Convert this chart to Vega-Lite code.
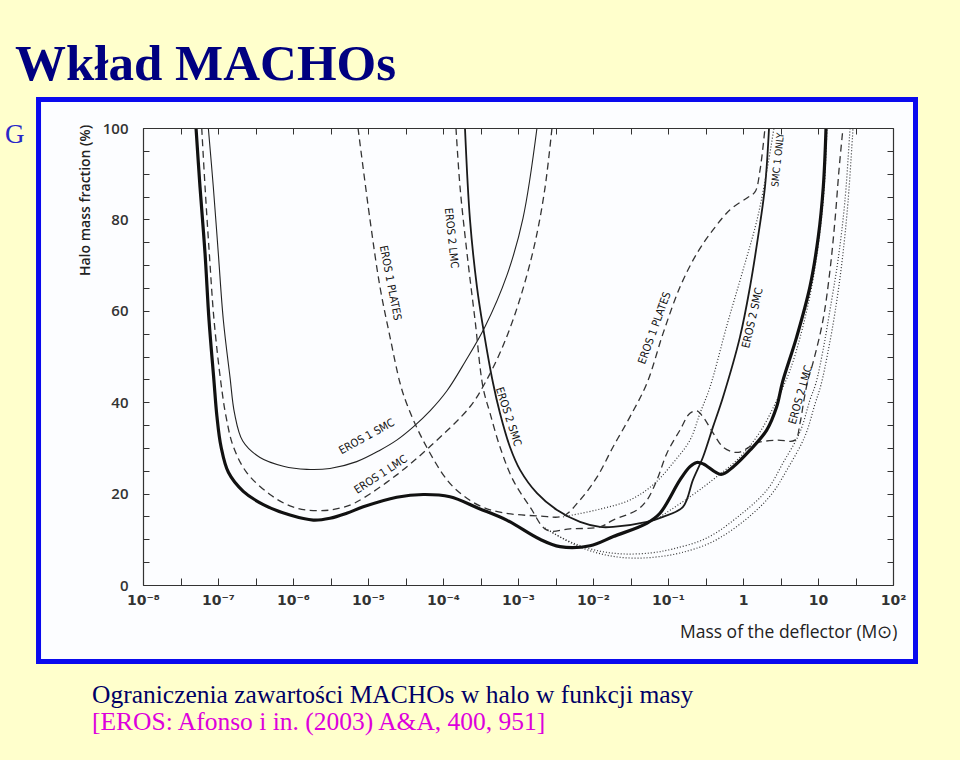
{
  "$schema": "https://vega.github.io/schema/vega-lite/v6.json",
  "width": 750,
  "height": 457,
  "autosize": {"type": "none"},
  "padding": {"left": 143, "top": 128, "right": 67, "bottom": 175},
  "background": "#FFFFCC",
  "config": {
    "view": {"stroke": null},
    "axis": {"grid": false, "domainColor": "#333333", "domainWidth": 1.2, "tickColor": "#333333", "tickWidth": 1, "labelFont": "Open Sans", "labelFontWeight": 600, "labelFontSize": 15, "labelColor": "#333333", "titleFont": "Open Sans", "zindex": 1}
  },
  "datasets": {
    "curves": [
      {"series": "EROS combined", "log_mass": -7.293, "fraction": 100},
      {"series": "EROS combined", "log_mass": -7.24, "fraction": 87.1},
      {"series": "EROS combined", "log_mass": -7.173, "fraction": 72.6},
      {"series": "EROS combined", "log_mass": -7.12, "fraction": 58.0},
      {"series": "EROS combined", "log_mass": -7.055, "fraction": 44.9},
      {"series": "EROS combined", "log_mass": -7.015, "fraction": 37.0},
      {"series": "EROS combined", "log_mass": -6.96, "fraction": 30.3},
      {"series": "EROS combined", "log_mass": -6.86, "fraction": 24.6},
      {"series": "EROS combined", "log_mass": -6.663, "fraction": 20.5},
      {"series": "EROS combined", "log_mass": -6.396, "fraction": 17.6},
      {"series": "EROS combined", "log_mass": -6.04, "fraction": 15.3},
      {"series": "EROS combined", "log_mass": -5.729, "fraction": 14.2},
      {"series": "EROS combined", "log_mass": -5.507, "fraction": 14.6},
      {"series": "EROS combined", "log_mass": -5.284, "fraction": 15.7},
      {"series": "EROS combined", "log_mass": -5.063, "fraction": 17.1},
      {"series": "EROS combined", "log_mass": -4.617, "fraction": 19.2},
      {"series": "EROS combined", "log_mass": -4.263, "fraction": 19.8},
      {"series": "EROS combined", "log_mass": -3.907, "fraction": 19.3},
      {"series": "EROS combined", "log_mass": -3.529, "fraction": 16.8},
      {"series": "EROS combined", "log_mass": -3.151, "fraction": 14.2},
      {"series": "EROS combined", "log_mass": -2.707, "fraction": 10.0},
      {"series": "EROS combined", "log_mass": -2.44, "fraction": 8.4},
      {"series": "EROS combined", "log_mass": -2.04, "fraction": 8.6},
      {"series": "EROS combined", "log_mass": -1.729, "fraction": 10.6},
      {"series": "EROS combined", "log_mass": -1.284, "fraction": 13.5},
      {"series": "EROS combined", "log_mass": -1.107, "fraction": 15.7},
      {"series": "EROS combined", "log_mass": -0.84, "fraction": 23.0},
      {"series": "EROS combined", "log_mass": -0.707, "fraction": 25.9},
      {"series": "EROS combined", "log_mass": -0.617, "fraction": 26.8},
      {"series": "EROS combined", "log_mass": -0.529, "fraction": 26.5},
      {"series": "EROS combined", "log_mass": -0.293, "fraction": 24.2},
      {"series": "EROS combined", "log_mass": -0.129, "fraction": 25.9},
      {"series": "EROS combined", "log_mass": 0.093, "fraction": 29.5},
      {"series": "EROS combined", "log_mass": 0.316, "fraction": 33.9},
      {"series": "EROS combined", "log_mass": 0.449, "fraction": 39.0},
      {"series": "EROS combined", "log_mass": 0.527, "fraction": 44.4},
      {"series": "EROS combined", "log_mass": 0.716, "fraction": 54.3},
      {"series": "EROS combined", "log_mass": 0.893, "fraction": 65.3},
      {"series": "EROS combined", "log_mass": 1.004, "fraction": 76.2},
      {"series": "EROS combined", "log_mass": 1.071, "fraction": 87.2},
      {"series": "EROS combined", "log_mass": 1.107, "fraction": 100},

      {"series": "EROS 1 SMC", "log_mass": -7.129, "fraction": 100},
      {"series": "EROS 1 SMC", "log_mass": -7.063, "fraction": 87.2},
      {"series": "EROS 1 SMC", "log_mass": -6.996, "fraction": 72.6},
      {"series": "EROS 1 SMC", "log_mass": -6.929, "fraction": 58.0},
      {"series": "EROS 1 SMC", "log_mass": -6.84, "fraction": 45.5},
      {"series": "EROS 1 SMC", "log_mass": -6.78, "fraction": 37.6},
      {"series": "EROS 1 SMC", "log_mass": -6.67, "fraction": 31.5},
      {"series": "EROS 1 SMC", "log_mass": -6.44, "fraction": 27.9},
      {"series": "EROS 1 SMC", "log_mass": -6.129, "fraction": 26.0},
      {"series": "EROS 1 SMC", "log_mass": -5.817, "fraction": 25.3},
      {"series": "EROS 1 SMC", "log_mass": -5.507, "fraction": 25.5},
      {"series": "EROS 1 SMC", "log_mass": -5.151, "fraction": 27.0},
      {"series": "EROS 1 SMC", "log_mass": -4.84, "fraction": 29.5},
      {"series": "EROS 1 SMC", "log_mass": -4.617, "fraction": 31.7},
      {"series": "EROS 1 SMC", "log_mass": -4.396, "fraction": 34.6},
      {"series": "EROS 1 SMC", "log_mass": -4.173, "fraction": 38.1},
      {"series": "EROS 1 SMC", "log_mass": -3.947, "fraction": 42.5},
      {"series": "EROS 1 SMC", "log_mass": -3.707, "fraction": 48.8},
      {"series": "EROS 1 SMC", "log_mass": -3.44, "fraction": 56.5},
      {"series": "EROS 1 SMC", "log_mass": -3.147, "fraction": 67.8},
      {"series": "EROS 1 SMC", "log_mass": -2.933, "fraction": 80.3},
      {"series": "EROS 1 SMC", "log_mass": -2.747, "fraction": 100},

      {"series": "EROS 1 LMC", "log_mass": -7.217, "fraction": 100},
      {"series": "EROS 1 LMC", "log_mass": -7.173, "fraction": 87.2},
      {"series": "EROS 1 LMC", "log_mass": -7.116, "fraction": 72.6},
      {"series": "EROS 1 LMC", "log_mass": -7.053, "fraction": 58.0},
      {"series": "EROS 1 LMC", "log_mass": -6.96, "fraction": 44.1},
      {"series": "EROS 1 LMC", "log_mass": -6.89, "fraction": 36.6},
      {"series": "EROS 1 LMC", "log_mass": -6.796, "fraction": 30.3},
      {"series": "EROS 1 LMC", "log_mass": -6.617, "fraction": 24.6},
      {"series": "EROS 1 LMC", "log_mass": -6.307, "fraction": 19.8},
      {"series": "EROS 1 LMC", "log_mass": -6.04, "fraction": 17.3},
      {"series": "EROS 1 LMC", "log_mass": -5.817, "fraction": 16.4},
      {"series": "EROS 1 LMC", "log_mass": -5.507, "fraction": 16.4},
      {"series": "EROS 1 LMC", "log_mass": -5.24, "fraction": 17.5},
      {"series": "EROS 1 LMC", "log_mass": -5.063, "fraction": 19.0},
      {"series": "EROS 1 LMC", "log_mass": -4.617, "fraction": 24.1},
      {"series": "EROS 1 LMC", "log_mass": -4.173, "fraction": 30.3},
      {"series": "EROS 1 LMC", "log_mass": -3.64, "fraction": 39.0},
      {"series": "EROS 1 LMC", "log_mass": -3.44, "fraction": 44.2},
      {"series": "EROS 1 LMC", "log_mass": -3.24, "fraction": 50.8},
      {"series": "EROS 1 LMC", "log_mass": -3.067, "fraction": 58.0},
      {"series": "EROS 1 LMC", "log_mass": -2.907, "fraction": 66.3},
      {"series": "EROS 1 LMC", "log_mass": -2.76, "fraction": 75.9},
      {"series": "EROS 1 LMC", "log_mass": -2.64, "fraction": 86.9},
      {"series": "EROS 1 LMC", "log_mass": -2.547, "fraction": 100},

      {"series": "EROS 1 PLATES", "log_mass": -5.133, "fraction": 100},
      {"series": "EROS 1 PLATES", "log_mass": -4.973, "fraction": 79.9},
      {"series": "EROS 1 PLATES", "log_mass": -4.84, "fraction": 65.2},
      {"series": "EROS 1 PLATES", "log_mass": -4.707, "fraction": 54.3},
      {"series": "EROS 1 PLATES", "log_mass": -4.573, "fraction": 44.2},
      {"series": "EROS 1 PLATES", "log_mass": -4.48, "fraction": 39.5},
      {"series": "EROS 1 PLATES", "log_mass": -4.267, "fraction": 31.7},
      {"series": "EROS 1 PLATES", "log_mass": -3.947, "fraction": 23.0},
      {"series": "EROS 1 PLATES", "log_mass": -3.747, "fraction": 19.8},
      {"series": "EROS 1 PLATES", "log_mass": -3.507, "fraction": 17.3},
      {"series": "EROS 1 PLATES", "log_mass": -3.2, "fraction": 15.8},
      {"series": "EROS 1 PLATES", "log_mass": -2.707, "fraction": 15.1},
      {"series": "EROS 1 PLATES", "log_mass": -2.4, "fraction": 15.1},
      {"series": "EROS 1 PLATES", "log_mass": -2.173, "fraction": 18.6},
      {"series": "EROS 1 PLATES", "log_mass": -1.947, "fraction": 23.6},
      {"series": "EROS 1 PLATES", "log_mass": -1.733, "fraction": 30.2},
      {"series": "EROS 1 PLATES", "log_mass": -1.507, "fraction": 36.8},
      {"series": "EROS 1 PLATES", "log_mass": -1.28, "fraction": 44.2},
      {"series": "EROS 1 PLATES", "log_mass": -1.067, "fraction": 55.0},
      {"series": "EROS 1 PLATES", "log_mass": -0.84, "fraction": 65.2},
      {"series": "EROS 1 PLATES", "log_mass": -0.613, "fraction": 72.6},
      {"series": "EROS 1 PLATES", "log_mass": -0.4, "fraction": 77.7},
      {"series": "EROS 1 PLATES", "log_mass": -0.173, "fraction": 82.1},
      {"series": "EROS 1 PLATES", "log_mass": 0.053, "fraction": 84.7},
      {"series": "EROS 1 PLATES", "log_mass": 0.16, "fraction": 86.0},
      {"series": "EROS 1 PLATES", "log_mass": 0.227, "fraction": 90.8},
      {"series": "EROS 1 PLATES", "log_mass": 0.293, "fraction": 100},

      {"series": "EROS 2 LMC", "log_mass": -3.827, "fraction": 100},
      {"series": "EROS 2 LMC", "log_mass": -3.773, "fraction": 87.1},
      {"series": "EROS 2 LMC", "log_mass": -3.68, "fraction": 72.6},
      {"series": "EROS 2 LMC", "log_mass": -3.573, "fraction": 58.0},
      {"series": "EROS 2 LMC", "log_mass": -3.467, "fraction": 43.3},
      {"series": "EROS 2 LMC", "log_mass": -3.373, "fraction": 37.6},
      {"series": "EROS 2 LMC", "log_mass": -3.24, "fraction": 30.2},
      {"series": "EROS 2 LMC", "log_mass": -3.067, "fraction": 23.0},
      {"series": "EROS 2 LMC", "log_mass": -2.84, "fraction": 17.1},
      {"series": "EROS 2 LMC", "log_mass": -2.613, "fraction": 12.0},
      {"series": "EROS 2 LMC", "log_mass": -2.307, "fraction": 12.3},
      {"series": "EROS 2 LMC", "log_mass": -1.907, "fraction": 12.7},
      {"series": "EROS 2 LMC", "log_mass": -1.733, "fraction": 14.2},
      {"series": "EROS 2 LMC", "log_mass": -1.413, "fraction": 16.4},
      {"series": "EROS 2 LMC", "log_mass": -1.28, "fraction": 18.6},
      {"series": "EROS 2 LMC", "log_mass": -1.147, "fraction": 23.0},
      {"series": "EROS 2 LMC", "log_mass": -1.013, "fraction": 28.9},
      {"series": "EROS 2 LMC", "log_mass": -0.84, "fraction": 33.9},
      {"series": "EROS 2 LMC", "log_mass": -0.707, "fraction": 37.6},
      {"series": "EROS 2 LMC", "log_mass": -0.613, "fraction": 38.1},
      {"series": "EROS 2 LMC", "log_mass": -0.533, "fraction": 36.8},
      {"series": "EROS 2 LMC", "log_mass": -0.4, "fraction": 33.3},
      {"series": "EROS 2 LMC", "log_mass": -0.267, "fraction": 30.2},
      {"series": "EROS 2 LMC", "log_mass": -0.133, "fraction": 29.1},
      {"series": "EROS 2 LMC", "log_mass": -0.04, "fraction": 29.1},
      {"series": "EROS 2 LMC", "log_mass": 0.187, "fraction": 31.1},
      {"series": "EROS 2 LMC", "log_mass": 0.453, "fraction": 31.7},
      {"series": "EROS 2 LMC", "log_mass": 0.693, "fraction": 31.7},
      {"series": "EROS 2 LMC", "log_mass": 0.76, "fraction": 35.4},
      {"series": "EROS 2 LMC", "log_mass": 0.813, "fraction": 40.5},
      {"series": "EROS 2 LMC", "log_mass": 0.867, "fraction": 44.9},
      {"series": "EROS 2 LMC", "log_mass": 0.933, "fraction": 48.6},
      {"series": "EROS 2 LMC", "log_mass": 1.067, "fraction": 58.0},
      {"series": "EROS 2 LMC", "log_mass": 1.16, "fraction": 68.9},
      {"series": "EROS 2 LMC", "log_mass": 1.227, "fraction": 79.9},
      {"series": "EROS 2 LMC", "log_mass": 1.28, "fraction": 90.8},
      {"series": "EROS 2 LMC", "log_mass": 1.333, "fraction": 100},

      {"series": "EROS 2 SMC", "log_mass": -3.707, "fraction": 100},
      {"series": "EROS 2 SMC", "log_mass": -3.64, "fraction": 79.9},
      {"series": "EROS 2 SMC", "log_mass": -3.547, "fraction": 65.2},
      {"series": "EROS 2 SMC", "log_mass": -3.467, "fraction": 56.5},
      {"series": "EROS 2 SMC", "log_mass": -3.333, "fraction": 44.2},
      {"series": "EROS 2 SMC", "log_mass": -3.24, "fraction": 37.6},
      {"series": "EROS 2 SMC", "log_mass": -3.107, "fraction": 30.2},
      {"series": "EROS 2 SMC", "log_mass": -2.973, "fraction": 25.2},
      {"series": "EROS 2 SMC", "log_mass": -2.747, "fraction": 20.1},
      {"series": "EROS 2 SMC", "log_mass": -2.48, "fraction": 16.4},
      {"series": "EROS 2 SMC", "log_mass": -2.173, "fraction": 13.8},
      {"series": "EROS 2 SMC", "log_mass": -1.907, "fraction": 12.7},
      {"series": "EROS 2 SMC", "log_mass": -1.733, "fraction": 12.7},
      {"series": "EROS 2 SMC", "log_mass": -1.28, "fraction": 13.8},
      {"series": "EROS 2 SMC", "log_mass": -1.067, "fraction": 14.9},
      {"series": "EROS 2 SMC", "log_mass": -0.8, "fraction": 17.1},
      {"series": "EROS 2 SMC", "log_mass": -0.667, "fraction": 23.0},
      {"series": "EROS 2 SMC", "log_mass": -0.533, "fraction": 28.0},
      {"series": "EROS 2 SMC", "log_mass": -0.4, "fraction": 34.6},
      {"series": "EROS 2 SMC", "log_mass": -0.267, "fraction": 41.1},
      {"series": "EROS 2 SMC", "log_mass": -0.04, "fraction": 54.3},
      {"series": "EROS 2 SMC", "log_mass": 0.093, "fraction": 65.2},
      {"series": "EROS 2 SMC", "log_mass": 0.2, "fraction": 76.1},
      {"series": "EROS 2 SMC", "log_mass": 0.293, "fraction": 87.1},
      {"series": "EROS 2 SMC", "log_mass": 0.347, "fraction": 100},

      {"series": "SMC 1 ONLY", "log_mass": -2.4, "fraction": 14.9},
      {"series": "SMC 1 ONLY", "log_mass": -1.907, "fraction": 16.6},
      {"series": "SMC 1 ONLY", "log_mass": -1.507, "fraction": 18.6},
      {"series": "SMC 1 ONLY", "log_mass": -1.2, "fraction": 21.9},
      {"series": "SMC 1 ONLY", "log_mass": -0.933, "fraction": 26.7},
      {"series": "SMC 1 ONLY", "log_mass": -0.707, "fraction": 31.7},
      {"series": "SMC 1 ONLY", "log_mass": -0.573, "fraction": 37.6},
      {"series": "SMC 1 ONLY", "log_mass": -0.44, "fraction": 43.3},
      {"series": "SMC 1 ONLY", "log_mass": -0.213, "fraction": 56.9},
      {"series": "SMC 1 ONLY", "log_mass": 0.0, "fraction": 68.9},
      {"series": "SMC 1 ONLY", "log_mass": 0.187, "fraction": 79.9},
      {"series": "SMC 1 ONLY", "log_mass": 0.32, "fraction": 90.8},
      {"series": "SMC 1 ONLY", "log_mass": 0.413, "fraction": 100},

      {"series": "dotted A", "log_mass": -2.64, "fraction": 12.5},
      {"series": "dotted A", "log_mass": -2.533, "fraction": 11.4},
      {"series": "dotted A", "log_mass": -2.267, "fraction": 9.2},
      {"series": "dotted A", "log_mass": -1.907, "fraction": 7.4},
      {"series": "dotted A", "log_mass": -1.6, "fraction": 6.8},
      {"series": "dotted A", "log_mass": -1.24, "fraction": 7.0},
      {"series": "dotted A", "log_mass": -0.933, "fraction": 7.9},
      {"series": "dotted A", "log_mass": -0.48, "fraction": 10.3},
      {"series": "dotted A", "log_mass": -0.04, "fraction": 15.3},
      {"series": "dotted A", "log_mass": 0.32, "fraction": 20.8},
      {"series": "dotted A", "log_mass": 0.533, "fraction": 26.7},
      {"series": "dotted A", "log_mass": 0.76, "fraction": 33.5},
      {"series": "dotted A", "log_mass": 0.893, "fraction": 40.5},
      {"series": "dotted A", "log_mass": 0.973, "fraction": 44.2},
      {"series": "dotted A", "log_mass": 1.067, "fraction": 51.4},
      {"series": "dotted A", "log_mass": 1.16, "fraction": 60.2},
      {"series": "dotted A", "log_mass": 1.267, "fraction": 71.1},
      {"series": "dotted A", "log_mass": 1.36, "fraction": 84.2},
      {"series": "dotted A", "log_mass": 1.427, "fraction": 100},

      {"series": "dotted B", "log_mass": -2.573, "fraction": 11.8},
      {"series": "dotted B", "log_mass": -2.44, "fraction": 10.5},
      {"series": "dotted B", "log_mass": -2.173, "fraction": 8.3},
      {"series": "dotted B", "log_mass": -1.84, "fraction": 6.6},
      {"series": "dotted B", "log_mass": -1.507, "fraction": 5.9},
      {"series": "dotted B", "log_mass": -1.173, "fraction": 6.1},
      {"series": "dotted B", "log_mass": -0.84, "fraction": 7.0},
      {"series": "dotted B", "log_mass": -0.413, "fraction": 9.4},
      {"series": "dotted B", "log_mass": 0.027, "fraction": 14.2},
      {"series": "dotted B", "log_mass": 0.373, "fraction": 19.7},
      {"series": "dotted B", "log_mass": 0.6, "fraction": 25.6},
      {"series": "dotted B", "log_mass": 0.827, "fraction": 32.6},
      {"series": "dotted B", "log_mass": 0.96, "fraction": 39.6},
      {"series": "dotted B", "log_mass": 1.04, "fraction": 43.8},
      {"series": "dotted B", "log_mass": 1.133, "fraction": 51.0},
      {"series": "dotted B", "log_mass": 1.227, "fraction": 59.7},
      {"series": "dotted B", "log_mass": 1.32, "fraction": 70.7},
      {"series": "dotted B", "log_mass": 1.4, "fraction": 83.8},
      {"series": "dotted B", "log_mass": 1.467, "fraction": 100},

      {"series": "dotted C", "log_mass": -1.107, "fraction": 14.9},
      {"series": "dotted C", "log_mass": -0.707, "fraction": 19.3},
      {"series": "dotted C", "log_mass": -0.373, "fraction": 23.4},
      {"series": "dotted C", "log_mass": -0.04, "fraction": 28.0},
      {"series": "dotted C", "log_mass": 0.227, "fraction": 33.5},
      {"series": "dotted C", "log_mass": 0.453, "fraction": 40.5},
      {"series": "dotted C", "log_mass": 0.627, "fraction": 47.0},
      {"series": "dotted C", "log_mass": 0.787, "fraction": 55.8},
      {"series": "dotted C", "log_mass": 0.92, "fraction": 65.6},
      {"series": "dotted C", "log_mass": 1.013, "fraction": 75.5},
      {"series": "dotted C", "log_mass": 1.08, "fraction": 86.4},
      {"series": "dotted C", "log_mass": 1.12, "fraction": 100}
    ],
    "labels": [
      {"label": "EROS 1 PLATES", "log_mass": -4.707, "fraction": 66.1},
      {"label": "EROS 2 LMC", "log_mass": -3.893, "fraction": 75.9},
      {"label": "EROS 1 SMC", "log_mass": -5.013, "fraction": 32.4},
      {"label": "EROS 1 LMC", "log_mass": -4.827, "fraction": 24.1},
      {"label": "EROS 2 SMC", "log_mass": -3.133, "fraction": 36.8},
      {"label": "EROS 1 PLATES", "log_mass": -1.173, "fraction": 56.2},
      {"label": "EROS 2 SMC", "log_mass": 0.133, "fraction": 58.4},
      {"label": "SMC 1 ONLY", "log_mass": 0.467, "fraction": 93.0},
      {"label": "EROS 2 LMC", "log_mass": 0.773, "fraction": 41.6}
    ]
  },
  "layer": [
    {
      "data": {"values": [{"part": "frame"}]},
      "mark": {"type": "rect", "fill": "#FCFDFF", "stroke": "#0A0AEE", "strokeWidth": 5, "invalid": null, "zindex": 0},
      "encoding": {
        "x": {"datum": -9.393, "type": "quantitative", "scale": {"domain": [-8, 2], "nice": false, "zero": false}, "axis": null},
        "x2": {"datum": 2.3},
        "y": {"datum": 106.24, "type": "quantitative", "scale": {"domain": [0, 100], "nice": false, "zero": false}, "axis": null},
        "y2": {"datum": -16.74}
      }
    },
    {
      "data": {"name": "labels"},
      "mark": {"type": "point", "opacity": 0},
      "encoding": {
        "x": {
          "field": "log_mass", "type": "quantitative",
          "scale": {"domain": [-8, 2], "nice": false, "zero": false},
          "axis": {
            "orient": "bottom", "zindex": 2,
            "values": [-8, -7.5, -7, -6.5, -6, -5.5, -5, -4.5, -4, -3.5, -3, -2.5, -2, -1.5, -1, -0.5, 0, 0.5, 1, 1.5, 2],
            "labelExpr": "datum.value == -8 ? '10⁻⁸' : datum.value == -7 ? '10⁻⁷' : datum.value == -6 ? '10⁻⁶' : datum.value == -5 ? '10⁻⁵' : datum.value == -4 ? '10⁻⁴' : datum.value == -3 ? '10⁻³' : datum.value == -2 ? '10⁻²' : datum.value == -1 ? '10⁻¹' : datum.value == 0 ? '1' : datum.value == 1 ? '10' : datum.value == 2 ? '10²' : ''",
            "labelFont": "DejaVu Sans", "labelFontSize": 14, "labelFontWeight": "bold",
            "tickSize": -7, "labelPadding": 15, "labelFlush": false, "labelOverlap": false,
            "title": "Mass of the deflector (M⊙)", "titleAnchor": "end", "titleAlign": "right",
            "titleX": 754, "titleY": 52, "titleBaseline": "alphabetic",
            "titleFontSize": 17.5, "titleFontWeight": "normal", "titleColor": "#222222"
          }
        },
        "y": {
          "field": "fraction", "type": "quantitative",
          "scale": {"domain": [0, 100], "nice": false, "zero": false},
          "axis": {
            "orient": "left", "zindex": 2,
            "values": [0, 5, 10, 15, 20, 25, 30, 35, 40, 45, 50, 55, 60, 65, 70, 75, 80, 85, 90, 95, 100],
            "labelExpr": "datum.value % 20 == 0 ? datum.label : ''",
            "tickSize": -6, "labelPadding": 21,
            "title": "Halo mass fraction (%)", "titleX": -58, "titleY": 72, "titleAngle": -90,
            "titleAlign": "center", "titleBaseline": "middle",
            "titleFontSize": 14, "titleFontWeight": 600, "titleColor": "#222222"
          }
        }
      }
    },
    {
      "data": {"name": "labels"},
      "mark": {"type": "point", "opacity": 0},
      "encoding": {
        "x": {
          "field": "log_mass", "type": "quantitative",
          "scale": {"domain": [-8, 2], "nice": false, "zero": false},
          "axis": {"orient": "top", "zindex": 2, "labels": false, "title": null, "tickSize": -6, "domain": true,
                   "values": [-8, -7.5, -7, -6.5, -6, -5.5, -5, -4.5, -4, -3.5, -3, -2.5, -2, -1.5, -1, -0.5, 0, 0.5, 1, 1.5, 2]}
        },
        "y": {
          "field": "fraction", "type": "quantitative",
          "scale": {"domain": [0, 100], "nice": false, "zero": false},
          "axis": {"orient": "right", "zindex": 2, "labels": false, "title": null, "tickSize": -6, "domain": true,
                   "values": [0, 5, 10, 15, 20, 25, 30, 35, 40, 45, 50, 55, 60, 65, 70, 75, 80, 85, 90, 95, 100]}
        }
      }
    },
    {
      "data": {"name": "curves"},
      "transform": [{"filter": "datum.series === 'EROS 1 SMC'"}],
      "mark": {"type": "line", "interpolate": "catmull-rom", "color": "#222222", "strokeWidth": 1.1, "zindex": 1},
      "encoding": {
        "x": {"field": "log_mass", "type": "quantitative", "scale": {"domain": [-8, 2], "nice": false, "zero": false}, "axis": null},
        "y": {"field": "fraction", "type": "quantitative", "scale": {"domain": [0, 100], "nice": false, "zero": false}, "axis": null},
        "detail": {"field": "series"}
      }
    },
    {
      "data": {"name": "curves"},
      "transform": [{"filter": "datum.series === 'EROS 2 SMC'"}],
      "mark": {"type": "line", "interpolate": "catmull-rom", "color": "#1a1a1a", "strokeWidth": 1.8, "zindex": 1},
      "encoding": {
        "x": {"field": "log_mass", "type": "quantitative", "scale": {"domain": [-8, 2], "nice": false, "zero": false}, "axis": null},
        "y": {"field": "fraction", "type": "quantitative", "scale": {"domain": [0, 100], "nice": false, "zero": false}, "axis": null},
        "detail": {"field": "series"}
      }
    },
    {
      "data": {"name": "curves"},
      "transform": [{"filter": "datum.series === 'EROS 1 LMC' || datum.series === 'EROS 1 PLATES' || datum.series === 'EROS 2 LMC'"}],
      "mark": {"type": "line", "interpolate": "catmull-rom", "color": "#333333", "strokeWidth": 1.3, "strokeDash": [7, 4.5], "zindex": 1},
      "encoding": {
        "x": {"field": "log_mass", "type": "quantitative", "scale": {"domain": [-8, 2], "nice": false, "zero": false}, "axis": null},
        "y": {"field": "fraction", "type": "quantitative", "scale": {"domain": [0, 100], "nice": false, "zero": false}, "axis": null},
        "detail": {"field": "series"}
      }
    },
    {
      "data": {"name": "curves"},
      "transform": [{"filter": "datum.series === 'SMC 1 ONLY' || datum.series === 'dotted A' || datum.series === 'dotted B' || datum.series === 'dotted C'"}],
      "mark": {"type": "line", "interpolate": "catmull-rom", "color": "#333333", "strokeWidth": 1.2, "strokeDash": [1, 2], "zindex": 1},
      "encoding": {
        "x": {"field": "log_mass", "type": "quantitative", "scale": {"domain": [-8, 2], "nice": false, "zero": false}, "axis": null},
        "y": {"field": "fraction", "type": "quantitative", "scale": {"domain": [0, 100], "nice": false, "zero": false}, "axis": null},
        "detail": {"field": "series"}
      }
    },
    {
      "data": {"name": "curves"},
      "transform": [{"filter": "datum.series === 'EROS combined'"}],
      "mark": {"type": "line", "interpolate": "catmull-rom", "color": "#111111", "strokeWidth": 3.2, "zindex": 1},
      "encoding": {
        "x": {"field": "log_mass", "type": "quantitative", "scale": {"domain": [-8, 2], "nice": false, "zero": false}, "axis": null},
        "y": {"field": "fraction", "type": "quantitative", "scale": {"domain": [0, 100], "nice": false, "zero": false}, "axis": null},
        "detail": {"field": "series"}
      }
    },
    {
      "data": {"name": "labels"},
      "transform": [{"filter": "datum.label === 'EROS 1 PLATES' && datum.log_mass < -3"}],
      "mark": {"type": "text", "angle": 79, "font": "Liberation Sans Narrow, DejaVu Sans Condensed, Open Sans, sans-serif", "fontSize": 11, "color": "#111111", "align": "center", "baseline": "middle", "zindex": 1},
      "encoding": {"x": {"field": "log_mass", "type": "quantitative", "axis": null}, "y": {"field": "fraction", "type": "quantitative", "axis": null}, "text": {"field": "label"}}
    },
    {
      "data": {"name": "labels"},
      "transform": [{"filter": "datum.label === 'EROS 2 LMC' && datum.log_mass < -3"}],
      "mark": {"type": "text", "angle": 84, "font": "Liberation Sans Narrow, DejaVu Sans Condensed, Open Sans, sans-serif", "fontSize": 11, "color": "#111111", "align": "center", "baseline": "middle", "zindex": 1},
      "encoding": {"x": {"field": "log_mass", "type": "quantitative", "axis": null}, "y": {"field": "fraction", "type": "quantitative", "axis": null}, "text": {"field": "label"}}
    },
    {
      "data": {"name": "labels"},
      "transform": [{"filter": "datum.label === 'EROS 1 SMC'"}],
      "mark": {"type": "text", "angle": -29, "font": "Liberation Sans Narrow, DejaVu Sans Condensed, Open Sans, sans-serif", "fontSize": 11, "color": "#111111", "align": "center", "baseline": "middle", "zindex": 1},
      "encoding": {"x": {"field": "log_mass", "type": "quantitative", "axis": null}, "y": {"field": "fraction", "type": "quantitative", "axis": null}, "text": {"field": "label"}}
    },
    {
      "data": {"name": "labels"},
      "transform": [{"filter": "datum.label === 'EROS 1 LMC'"}],
      "mark": {"type": "text", "angle": -33, "font": "Liberation Sans Narrow, DejaVu Sans Condensed, Open Sans, sans-serif", "fontSize": 11, "color": "#111111", "align": "center", "baseline": "middle", "zindex": 1},
      "encoding": {"x": {"field": "log_mass", "type": "quantitative", "axis": null}, "y": {"field": "fraction", "type": "quantitative", "axis": null}, "text": {"field": "label"}}
    },
    {
      "data": {"name": "labels"},
      "transform": [{"filter": "datum.label === 'EROS 2 SMC' && datum.log_mass < -2"}],
      "mark": {"type": "text", "angle": 72, "font": "Liberation Sans Narrow, DejaVu Sans Condensed, Open Sans, sans-serif", "fontSize": 11, "color": "#111111", "align": "center", "baseline": "middle", "zindex": 1},
      "encoding": {"x": {"field": "log_mass", "type": "quantitative", "axis": null}, "y": {"field": "fraction", "type": "quantitative", "axis": null}, "text": {"field": "label"}}
    },
    {
      "data": {"name": "labels"},
      "transform": [{"filter": "datum.label === 'EROS 1 PLATES' && datum.log_mass > -3"}],
      "mark": {"type": "text", "angle": -70, "font": "Liberation Sans Narrow, DejaVu Sans Condensed, Open Sans, sans-serif", "fontSize": 11, "color": "#111111", "align": "center", "baseline": "middle", "zindex": 1},
      "encoding": {"x": {"field": "log_mass", "type": "quantitative", "axis": null}, "y": {"field": "fraction", "type": "quantitative", "axis": null}, "text": {"field": "label"}}
    },
    {
      "data": {"name": "labels"},
      "transform": [{"filter": "datum.label === 'EROS 2 SMC' && datum.log_mass > -2"}],
      "mark": {"type": "text", "angle": -77, "font": "Liberation Sans Narrow, DejaVu Sans Condensed, Open Sans, sans-serif", "fontSize": 11, "color": "#111111", "align": "center", "baseline": "middle", "zindex": 1},
      "encoding": {"x": {"field": "log_mass", "type": "quantitative", "axis": null}, "y": {"field": "fraction", "type": "quantitative", "axis": null}, "text": {"field": "label"}}
    },
    {
      "data": {"name": "labels"},
      "transform": [{"filter": "datum.label === 'SMC 1 ONLY'"}],
      "mark": {"type": "text", "angle": -84, "font": "Liberation Sans Narrow, DejaVu Sans Condensed, Open Sans, sans-serif", "fontSize": 10, "color": "#111111", "align": "center", "baseline": "middle", "zindex": 1},
      "encoding": {"x": {"field": "log_mass", "type": "quantitative", "axis": null}, "y": {"field": "fraction", "type": "quantitative", "axis": null}, "text": {"field": "label"}}
    },
    {
      "data": {"name": "labels"},
      "transform": [{"filter": "datum.label === 'EROS 2 LMC' && datum.log_mass > -3"}],
      "mark": {"type": "text", "angle": -74, "font": "Liberation Sans Narrow, DejaVu Sans Condensed, Open Sans, sans-serif", "fontSize": 11, "color": "#111111", "align": "center", "baseline": "middle", "zindex": 1},
      "encoding": {"x": {"field": "log_mass", "type": "quantitative", "axis": null}, "y": {"field": "fraction", "type": "quantitative", "axis": null}, "text": {"field": "label"}}
    },
    {
      "data": {"values": [{"part": "title"}]},
      "mark": {"type": "text", "text": "Wkład MACHOs", "font": "Liberation Serif", "fontSize": 51, "fontWeight": "bold", "color": "#000080", "align": "left", "baseline": "alphabetic", "invalid": null, "zindex": 1},
      "encoding": {"x": {"datum": -9.707, "type": "quantitative", "axis": null}, "y": {"datum": 110.5, "type": "quantitative", "axis": null}}
    },
    {
      "data": {"values": [{"part": "G"}]},
      "mark": {"type": "text", "text": "G", "font": "Liberation Serif", "fontSize": 27, "color": "#2828C8", "align": "left", "baseline": "alphabetic", "invalid": null, "zindex": 1},
      "encoding": {"x": {"datum": -9.84, "type": "quantitative", "axis": null}, "y": {"datum": 96.7, "type": "quantitative", "axis": null}}
    },
    {
      "data": {"values": [{"part": "caption"}]},
      "mark": {"type": "text", "text": "Ograniczenia zawartości MACHOs w halo w funkcji masy", "font": "Liberation Serif", "fontSize": 25.5, "color": "#000066", "align": "left", "baseline": "alphabetic", "invalid": null, "zindex": 1},
      "encoding": {"x": {"datum": -8.68, "type": "quantitative", "axis": null}, "y": {"datum": -25.82, "type": "quantitative", "axis": null}}
    },
    {
      "data": {"values": [{"part": "source"}]},
      "mark": {"type": "text", "text": "[EROS: Afonso i in. (2003) A&A, 400, 951]", "font": "Liberation Serif", "fontSize": 25.5, "color": "#DD00DD", "align": "left", "baseline": "alphabetic", "invalid": null, "zindex": 1},
      "encoding": {"x": {"datum": -8.68, "type": "quantitative", "axis": null}, "y": {"datum": -31.73, "type": "quantitative", "axis": null}}
    }
  ],
  "resolve": {"axis": {"x": "independent", "y": "independent"}}
}
